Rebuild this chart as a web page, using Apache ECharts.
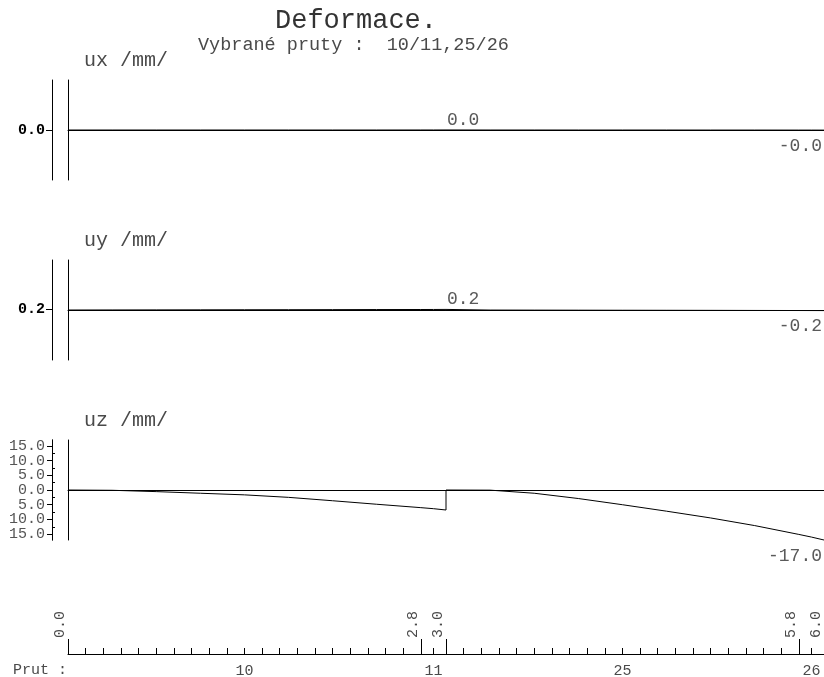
<!DOCTYPE html>
<html>
<head>
<meta charset="utf-8">
<script src="https://cdn.jsdelivr.net/npm/echarts@6/dist/echarts.min.js"></script>
<style>
  html, body { margin: 0; padding: 0; background: #fff; }
  #chart { width: 824px; height: 677px; }
</style>
</head>
<body>
<div id="chart"></div>
<script>
// Deformation diagrams (ux, uy, uz) along members 10/11 and 25/26
const FONT = '"Liberation Mono", "Courier New", monospace';

const members = ['10', '11', '25', '26'];
const memberStart = [0, 2.8, 3.0, 5.8];
const memberEnd = [2.8, 3.0, 5.8, 6.0];
const memberDivisions = [20, 2, 20, 2];
const stationTicks = [0, 2.8, 3.0, 5.8, 6.0];

// stations along the developed member line (m); 3.0 appears twice (jump between members 11 and 25)
const stations = [0, 0.35, 0.7, 1.05, 1.4, 1.75, 2.1, 2.45, 2.8, 2.9, 3.0,
                  3.0, 3.35, 3.7, 4.05, 4.4, 4.75, 5.1, 5.45, 5.8, 5.9, 6.0];

// deformations in mm
const ux = [0, 0, 0, 0, 0, 0, 0, 0, 0.01, 0.01, 0.02,
            0, 0, 0, -0.01, -0.01, -0.01, -0.02, -0.02, -0.03, -0.03, -0.04];
const uy = [0, 0.02, 0.04, 0.06, 0.08, 0.1, 0.12, 0.15, 0.17, 0.18, 0.2,
            0, -0.02, -0.04, -0.06, -0.08, -0.1, -0.12, -0.15, -0.18, -0.19, -0.2];
const uz = [0, -0.1, -0.55, -1.1, -1.65, -2.5, -3.65, -4.85, -6.0, -6.35, -6.8,
            0, -0.05, -1.1, -2.9, -5.0, -7.2, -9.5, -12.1, -15.1, -16.0, -17.0];

const uxTicks = [0];
const uyTicks = [0.2];
const uzTicks = [15, 10, 5, 0, -5, -10, -15];
const uzMinorTicks = [12.5, 7.5, 2.5, -2.5, -7.5, -12.5];

const U_LIMIT = 17;
const panelTops = [80, 260, 440];
const TEXT = '#4a4a4a';

// member subdivision ticks on the bottom ruler
const minorTicks = [];
memberStart.forEach((s, i) => {
  const step = (memberEnd[i] - s) / memberDivisions[i];
  for (let k = 0; k <= memberDivisions[i]; k++) minorTicks.push(+(s + k * step).toFixed(4));
});
const memberMid = memberStart.map((s, i) => +((s + memberEnd[i]) / 2).toFixed(4));

const chart = echarts.init(document.getElementById('chart'), null, { renderer: 'canvas' });

const grids = panelTops.map(t => ({
  left: 68, right: 0, top: t, height: 100, containLabel: false, outerBoundsMode: 'none'
}));
grids.push({ left: 68, right: 0, top: 600, height: 54, containLabel: false, outerBoundsMode: 'none' });

// horizontal scale per panel, its line drawn at u = 0
const xAxes = panelTops.map((t, i) => ({
  type: 'value', gridIndex: i, min: 0, max: 6, position: 'bottom',
  axisLine: { show: true, onZero: true, lineStyle: { color: '#000', width: 1 } },
  axisTick: { show: false }, axisLabel: { show: false }, splitLine: { show: false }
}));

// ruler: subdivision ticks
xAxes.push({
  type: 'value', gridIndex: 3, min: 0, max: 6, position: 'bottom',
  axisLine: { show: true, onZero: false, lineStyle: { color: '#000', width: 1 } },
  axisTick: { show: true, inside: true, length: 6, customValues: minorTicks, lineStyle: { color: '#000' } },
  axisLabel: { show: false }, splitLine: { show: false }
});
// ruler: station ticks with rotated labels
xAxes.push({
  type: 'value', gridIndex: 3, min: 0, max: 6, position: 'bottom',
  axisLine: { show: false, onZero: false },
  axisTick: { show: true, inside: true, length: 15, customValues: stationTicks, lineStyle: { color: '#000' } },
  axisLabel: {
    show: true, inside: true, rotate: 90, margin: 16, customValues: stationTicks,
    showMinLabel: true, showMaxLabel: true, hideOverlap: false,
    align: 'left', verticalAlign: 'bottom',
    formatter: v => v.toFixed(1),
    fontFamily: FONT, fontSize: 15, color: TEXT
  },
  splitLine: { show: false }
});
// ruler: member numbers
xAxes.push({
  type: 'value', gridIndex: 3, min: 0, max: 6, position: 'bottom',
  axisLine: { show: false, onZero: false }, axisTick: { show: false },
  axisLabel: {
    show: true, margin: 10, customValues: memberMid,
    showMinLabel: true, showMaxLabel: true, hideOverlap: false,
    formatter: v => members[memberMid.indexOf(v)] || '',
    fontFamily: FONT, fontSize: 15, color: TEXT
  },
  name: 'Prut :', nameLocation: 'start', nameGap: 1,
  nameTextStyle: { fontFamily: FONT, fontSize: 15, color: TEXT, align: 'right', verticalAlign: 'top', lineHeight: 32 },
  splitLine: { show: false }
});

// left scale carrying tick marks and labels
function tickAxis(gridIndex, ticks, bold, tickLen) {
  return {
    type: 'value', gridIndex, min: -U_LIMIT, max: U_LIMIT, position: 'left', offset: 16,
    axisLine: { show: true, onZero: false, lineStyle: { color: '#000', width: 1 } },
    axisTick: { show: true, length: tickLen, customValues: ticks, lineStyle: { color: '#000' } },
    axisLabel: {
      show: true, margin: 7, customValues: ticks, hideOverlap: false,
      showMinLabel: true, showMaxLabel: true,
      formatter: v => Math.abs(v).toFixed(1),
      fontFamily: FONT, fontSize: 15,
      fontWeight: bold ? 'bold' : 'normal',
      color: bold ? '#000' : '#555'
    },
    splitLine: { show: false }
  };
}

const yAxes = [];
const names = ['ux /mm/', 'uy /mm/', 'uz /mm/'];
const yIndex = [];

yAxes.push(tickAxis(0, uxTicks, true, 6));
yIndex.push(yAxes.length);
yAxes.push(null);
yAxes.push(tickAxis(1, uyTicks, true, 6));
yIndex.push(yAxes.length);
yAxes.push(null);
// uz: labels split over two scales so neighbouring labels are all kept
yAxes.push(tickAxis(2, uzTicks.filter((v, k) => k % 2 === 0), false, 5));
yAxes.push(tickAxis(2, uzTicks.filter((v, k) => k % 2 === 1), false, 5));
yAxes.push({
  type: 'value', gridIndex: 2, min: -U_LIMIT, max: U_LIMIT, position: 'left', offset: 16,
  axisLine: { show: false, onZero: false },
  axisTick: { show: true, inside: true, length: 3, customValues: uzMinorTicks, lineStyle: { color: '#000' } },
  axisLabel: { show: false }, splitLine: { show: false }
});
yIndex.push(yAxes.length);
yAxes.push(null);

// member start line per panel, carries the quantity name
yIndex.forEach((idx, i) => {
  yAxes[idx] = {
    type: 'value', gridIndex: i, min: -U_LIMIT, max: U_LIMIT, position: 'left', offset: 0,
    axisLine: { show: true, onZero: false, lineStyle: { color: '#000', width: 1 } },
    axisTick: { show: false }, axisLabel: { show: false }, splitLine: { show: false },
    name: names[i], nameLocation: 'end', nameGap: 9,
    nameTextStyle: { fontFamily: FONT, fontSize: 20, color: TEXT, align: 'left', verticalAlign: 'bottom', padding: [0, 0, 0, 16] }
  };
});
yAxes.push({ type: 'value', gridIndex: 3, min: 0, max: 1, show: false });

const valueLabel = { fontFamily: FONT, fontSize: 18, color: '#5a5a5a' };
const maxMark = {
  type: 'max', symbolSize: 0,
  label: Object.assign({ show: true, position: 'inside', align: 'left', verticalAlign: 'bottom', offset: [1, -1],
    formatter: p => p.value.toFixed(1) }, valueLabel)
};
const minMark = {
  type: 'min', symbolSize: 0,
  label: Object.assign({ show: true, position: 'inside', align: 'right', verticalAlign: 'top', offset: [-2, 7],
    formatter: p => p.value.toFixed(1) }, valueLabel)
};

function lineSeries(i, values, marks) {
  return {
    type: 'line', xAxisIndex: i, yAxisIndex: yIndex[i],
    data: stations.map((s, k) => [s, values[k]]),
    symbol: 'none', lineStyle: { color: '#000', width: 1 }, clip: false,
    markPoint: { symbol: 'circle', symbolSize: 0, data: marks, animation: false },
    animation: false
  };
}

chart.setOption({
  animation: false,
  backgroundColor: '#fff',
  title: [
    { text: 'Deformace.', left: 270, top: 2, textStyle: { fontFamily: FONT, fontSize: 27, fontWeight: 'normal', color: '#333' } },
    { text: 'Vybrané pruty :  10/11,25/26', left: 193, top: 31, textStyle: { fontFamily: FONT, fontSize: 18.5, fontWeight: 'normal', color: TEXT } }
  ],
  grid: grids,
  xAxis: xAxes,
  yAxis: yAxes,
  series: [
    lineSeries(0, ux, [maxMark, minMark]),
    lineSeries(1, uy, [maxMark, minMark]),
    lineSeries(2, uz, [minMark])
  ]
});
</script>
</body>
</html>
